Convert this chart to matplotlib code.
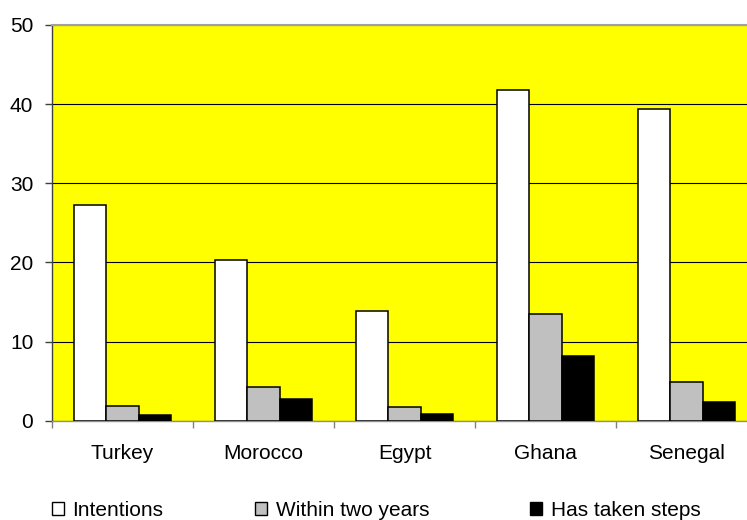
import matplotlib
matplotlib.use("Agg")
import matplotlib.pyplot as plt
from matplotlib.patches import Patch
import numpy as np

plt.rcParams['font.family'] = ['Liberation Sans', 'DejaVu Sans']

countries = ["Turkey", "Morocco", "Egypt", "Ghana", "Senegal"]
intentions = [27.3, 20.3, 13.9, 41.8, 39.4]
within_two_years = [1.9, 4.3, 1.7, 13.5, 4.9]
has_taken_steps = [0.7, 2.8, 0.9, 8.2, 2.4]
series_names = ["Intentions", "Within two years", "Has taken steps"]
y_ticks = [0, 10, 20, 30, 40, 50]

W, H = 747, 520
fig = plt.figure(figsize=(W / 100, H / 100), dpi=100)
# plot area runs slightly past the right edge of the canvas
ax = fig.add_axes([52 / W, 1 - 420.7 / H, 705 / W, (420.7 - 25) / H])
ax.set_facecolor("#FFFF00")

x = np.arange(len(countries))
bw = 0.2305
colors = ["#FFFFFF", "#C0C0C0", "#000000"]
series = [intentions, within_two_years, has_taken_steps]
for i, (vals, c) in enumerate(zip(series, colors)):
    ax.bar(x + (i - 1) * bw, vals, width=bw, color=c, edgecolor="black",
           linewidth=1.1, zorder=3)

ax.set_xlim(-0.5, len(countries) - 0.5)
ax.set_ylim(0, 50)
ax.set_yticks(y_ticks)
ax.set_yticklabels([str(v) for v in y_ticks])
ax.yaxis.grid(True, color="black", linewidth=0.8, zorder=1)
ax.set_axisbelow(True)

ax.set_xticks(x)
ax.set_xticklabels(countries)
ax.set_xticks(np.arange(-0.5, len(countries)), minor=True)
ax.tick_params(axis="x", which="major", length=0, pad=16.5, labelsize=15)
ax.tick_params(axis="x", which="minor", length=5, width=1, color="#808080")
ax.tick_params(axis="y", length=5, width=1, color="#404040", pad=8.5, labelsize=15)

ax.spines["right"].set_visible(False)
ax.spines["top"].set_color("#A0A0A0")
ax.spines["top"].set_linewidth(1.5)
ax.spines["left"].set_color("#404040")
ax.spines["left"].set_linewidth(1)
ax.spines["bottom"].set_color("#909090")
ax.spines["bottom"].set_linewidth(1)

# legend entries placed along the bottom
legend_x = [51.7, 255, 530]
for name, c, lx in zip(series_names, colors, legend_x):
    h = Patch(facecolor=c, edgecolor="black", linewidth=1.0)
    fig.legend(handles=[h], labels=[name], loc="center left",
               bbox_to_anchor=(lx / W, 1 - 510 / H), frameon=False,
               fontsize=15, borderpad=0, borderaxespad=0,
               handlelength=0.57, handleheight=0.57, handletextpad=0.43)

fig.savefig("out.png", dpi=100)
